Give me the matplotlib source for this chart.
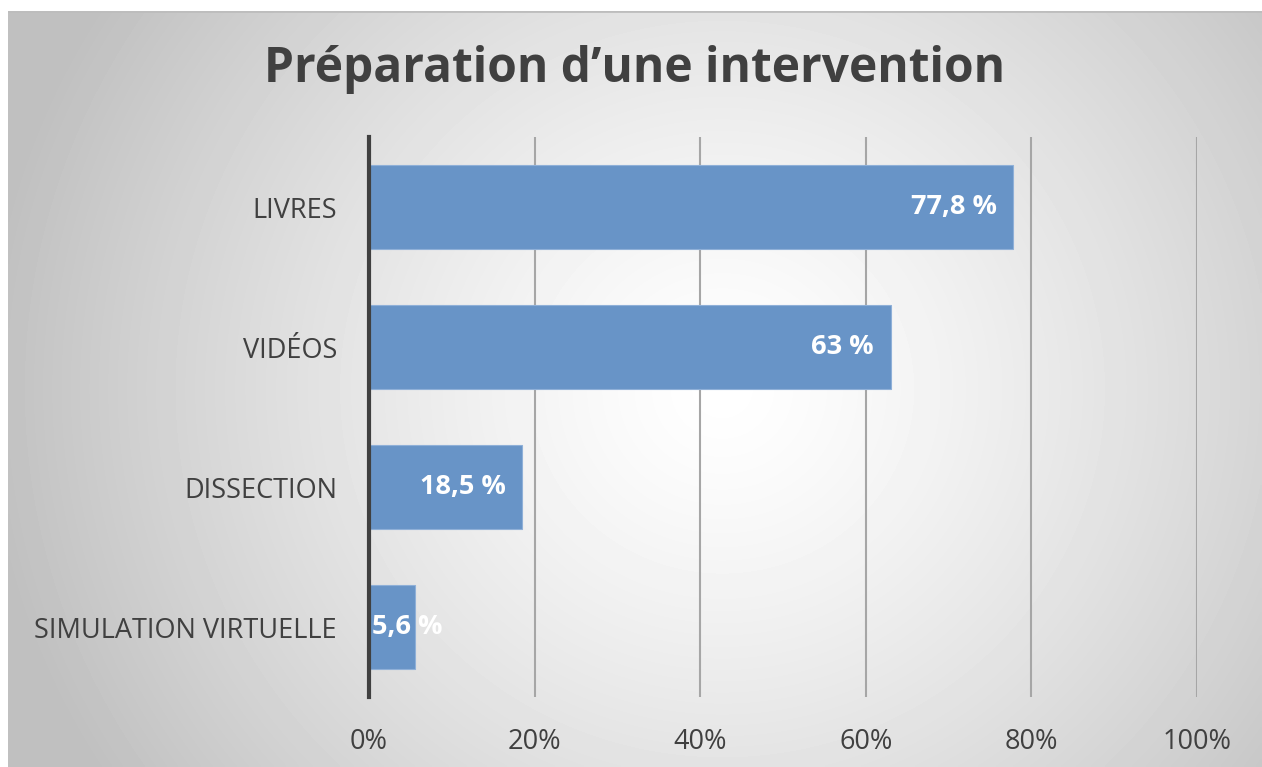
from matplotlib import pyplot as plt
import numpy as np

categories = ['LIVRES', 'VIDÉOS', 'DISSECTION', 'SIMULATION VIRTUELLE']
values = [77.8, 63, 18.5, 5.6]
value_labels = ['77,8 %', '63 %', '18,5 %', '5,6 %']
x_ticks = [0, 20, 40, 60, 80, 100]
x_tick_labels = ['0%', '20%', '40%', '60%', '80%', '100%']
title = 'Préparation d\u2019une intervention'

W, H = 1262, 767
fig = plt.figure(figsize=(W / 100, H / 100), dpi=100)
fig.patch.set_facecolor('white')

# radial gradient panel behind the chart
bg = fig.add_axes([8 / W, 0, 1 - 8 / W, 1 - 11 / H])
gx, gy = np.meshgrid(np.linspace(0, 1, 400), np.linspace(0, 1, 250))
r = np.sqrt(((gx - 0.57) * 1.6) ** 2 + ((gy - 0.5) * 1.0) ** 2)
shade = 1 - 0.25 * np.clip(r / 0.95, 0, 1) ** 1.3
bg.imshow(shade, cmap='gray', vmin=0, vmax=1, aspect='auto',
          extent=[0, 1, 0, 1], origin='lower', interpolation='bilinear')
bg.axhline(1, color='#bdbdbd', lw=2)
bg.set_axis_off()

ax = fig.add_axes([369 / W, 1 - 697 / H, (1197 - 369) / W, (697 - 137) / H])
ax.patch.set_alpha(0)

y = np.arange(len(categories))
ax.barh(y, values, height=0.6, color='#6894c7', edgecolor='#8fb0d8',
        linewidth=0.8, zorder=3)

for yi, v, lab in zip(y, values, value_labels):
    if v > 12:
        ax.annotate(lab, (v, yi), xytext=(-12, 0), textcoords='offset points',
                    ha='right', va='center', color='white', fontsize=19.5,
                    fontweight='bold', family='Open Sans', zorder=4)
    else:
        ax.annotate(lab, (0, yi), xytext=(2, 0), textcoords='offset points',
                    ha='left', va='center', color='white', fontsize=19.5,
                    fontweight='bold', family='Open Sans', zorder=4)

ax.set_xlim(0, 100)
ax.set_ylim(len(categories) - 0.5, -0.5)
ax.set_xticks(x_ticks)
ax.set_xticklabels(x_tick_labels)
ax.set_yticks(y)
ax.set_yticklabels(categories)
ax.tick_params(axis='x', length=0, pad=22, labelsize=19.5, labelcolor='#404040')
ax.tick_params(axis='y', length=0, pad=23, labelsize=19.5, labelcolor='#404040')
for t in ax.get_xticklabels() + ax.get_yticklabels():
    t.set_family('Open Sans')

ax.grid(axis='x', color='#a6a6a6', lw=1.5, zorder=1)
for side in ['top', 'right', 'bottom']:
    ax.spines[side].set_visible(False)
ax.spines['left'].set_color('#404040')
ax.spines['left'].set_linewidth(3)
ax.spines['left'].set_zorder(5)

fig.text(635 / W, 1 - 70 / H, title, ha='center', va='center', fontsize=34.5,
         fontweight='bold', color='#404040', family='Open Sans')

fig.savefig('out.png', dpi=100)
